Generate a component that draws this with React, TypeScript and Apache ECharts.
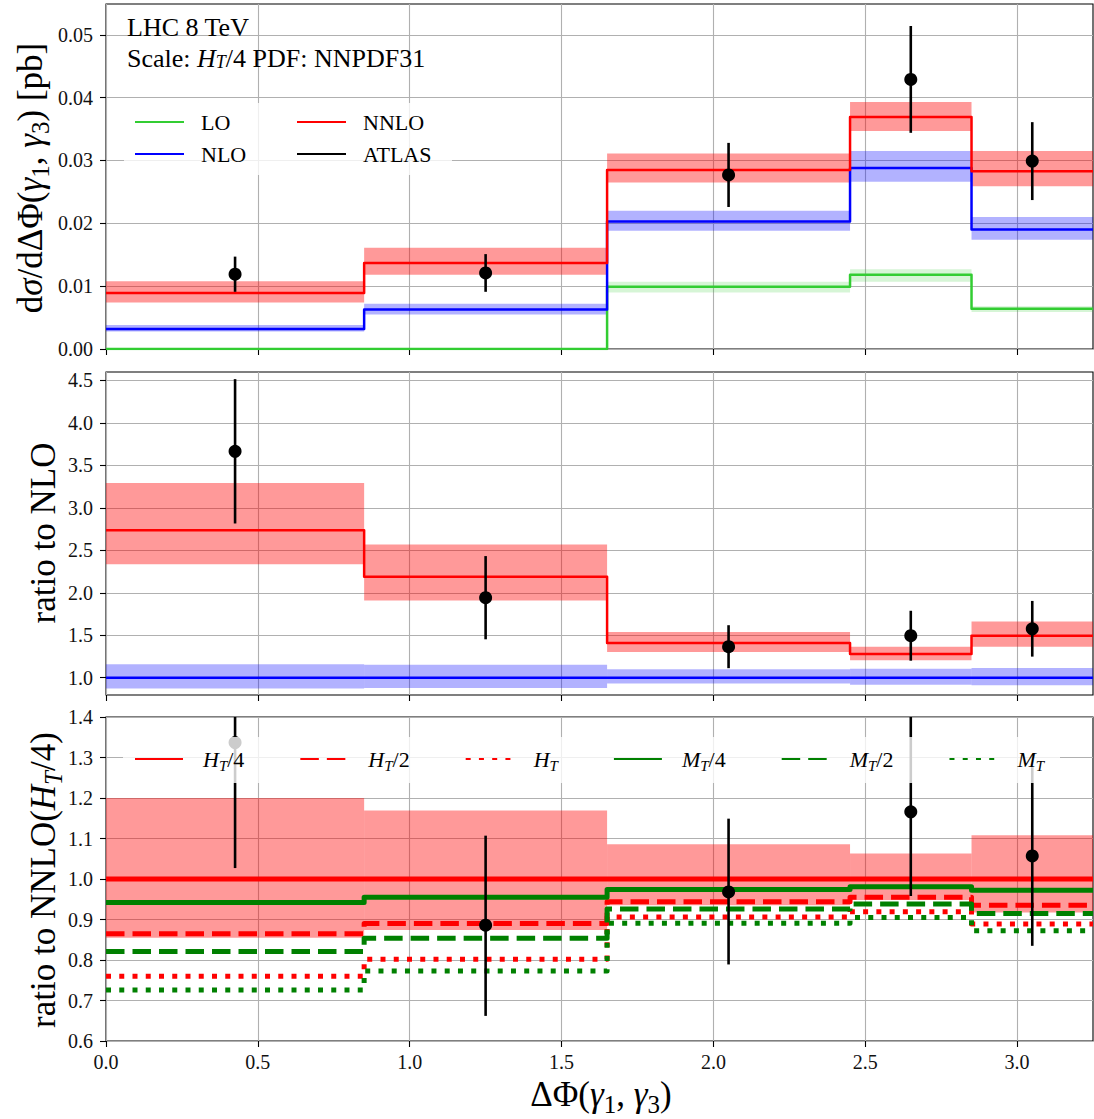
import React, { useEffect, useRef } from "react";
import * as echarts from "echarts";

const FONT = "'Liberation Serif', 'DejaVu Serif', serif";

// Binning in ΔΦ(γ1, γ3)
const binEdges = [0, 0.85, 1.65, 2.45, 2.85, 3.25];
const binCentres = [0.425, 1.25, 2.05, 2.65, 3.05];
const xTicks = [0, 0.5, 1.0, 1.5, 2.0, 2.5, 3.0];

// Top panel: differential cross section [pb]
const xsTicks = [0, 0.01, 0.02, 0.03, 0.04, 0.05];
const loXs = [0, 0, 0.0099, 0.0118, 0.0064];
const loXsLow = [0, 0, 0.009, 0.0107, 0.0059];
const loXsHigh = [0, 0, 0.0107, 0.0127, 0.0068];
const nloXs = [0.0032, 0.0063, 0.0203, 0.0288, 0.019];
const nloXsLow = [0.0028, 0.0055, 0.0188, 0.0266, 0.0174];
const nloXsHigh = [0.0038, 0.0072, 0.022, 0.0315, 0.021];
const nnloXs = [0.0089, 0.0137, 0.0285, 0.0369, 0.0283];
const nnloXsLow = [0.0074, 0.0118, 0.0265, 0.0347, 0.0259];
const nnloXsHigh = [0.0108, 0.0161, 0.0311, 0.0393, 0.0315];
const atlasXs = [0.0119, 0.0121, 0.0277, 0.0429, 0.0299];
const atlasXsErr = [0.0028, 0.003, 0.0051, 0.0085, 0.0062];

// Middle panel: ratio to NLO
const nloRatioTicks = [1.0, 1.5, 2.0, 2.5, 3.0, 3.5, 4.0, 4.5];
const nloOverNlo = [1, 1, 1, 1, 1];
const nloOverNloLow = [0.874, 0.878, 0.93, 0.918, 0.91];
const nloOverNloHigh = [1.157, 1.153, 1.098, 1.106, 1.114];
const nnloOverNlo = [2.736, 2.19, 1.408, 1.278, 1.494];
const nnloOverNloLow = [2.335, 1.91, 1.302, 1.204, 1.364];
const nnloOverNloHigh = [3.293, 2.567, 1.537, 1.364, 1.663];
const atlasOverNlo = [3.666, 1.942, 1.365, 1.494, 1.576];
const atlasOverNloErr = [0.85, 0.49, 0.253, 0.294, 0.328];

// Bottom panel: scale choices relative to NNLO(H_T/4)
const scaleRatioTicks = [0.6, 0.7, 0.8, 0.9, 1.0, 1.1, 1.2, 1.3, 1.4];
const scaleBandLow = [0.855, 0.874, 0.935, 0.948, 0.917];
const scaleBandHigh = [1.2, 1.169, 1.086, 1.063, 1.108];
const ratioHT4 = [1, 1, 1, 1, 1];
const ratioHT2 = [0.865, 0.89, 0.944, 0.955, 0.935];
const ratioHT = [0.76, 0.802, 0.906, 0.919, 0.889];
const ratioMT4 = [0.942, 0.955, 0.974, 0.981, 0.972];
const ratioMT2 = [0.821, 0.854, 0.926, 0.938, 0.915];
const ratioMT = [0.726, 0.773, 0.891, 0.905, 0.872];
const atlasOverHT4 = [1.337, 0.886, 0.968, 1.166, 1.057];
const atlasOverHT4ErrDown = [0.31, 0.224, 0.179, 0.208, 0.222];
const atlasOverHT4ErrUp = [0.31, 0.221, 0.181, 0.25, 0.219];

const scaleNames = ["HT/4", "HT/2", "HT", "MT/4", "MT/2", "MT"];
const scaleLabels: Record<string, string> = {
  "HT/4": "{p| }{i|H}{si|T}{r|/4}",
  "HT/2": "{p| }{i|H}{si|T}{r|/2}",
  HT: "{p| }{i|H}{si|T}",
  "MT/4": "{p| }{i|M}{si|T}{r|/4}",
  "MT/2": "{p| }{i|M}{si|T}{r|/2}",
  MT: "{p| }{i|M}{si|T}",
};

const RED = "#ff0000";
const BLUE = "#0000ff";
const LIME = "#32cd32";
const GREEN = "#008000";
const DASH = [18.5, 8];
const DOT = [5, 8.25];

const stepPoints = (v: number[]) =>
  binEdges.map((x, i) => [x, v[Math.min(i, v.length - 1)]]);
const bandRows = (lo: number[], hi: number[]) =>
  lo.map((l, i) => [binEdges[i], binEdges[i + 1], l, hi[i]]).filter((r) => r[3] > r[2]);
const errRows = (c: number[], dn: number[], up: number[]) =>
  c.map((y, i) => [binCentres[i], y, y - dn[i], y + up[i]]);

function bandSeries(panel: number, lo: number[], hi: number[], fill: string) {
  return {
    type: "custom",
    xAxisIndex: panel,
    yAxisIndex: panel,
    z: 1,
    clip: true,
    silent: true,
    data: bandRows(lo, hi),
    encode: { x: [0, 1], y: [2, 3] },
    renderItem: (_p: any, api: any) => {
      const a = api.coord([api.value(0), api.value(3)]);
      const b = api.coord([api.value(1), api.value(2)]);
      return {
        type: "rect",
        shape: { x: a[0], y: a[1], width: b[0] - a[0], height: b[1] - a[1] },
        style: { fill },
      };
    },
  };
}

function stepSeries(
  panel: number,
  name: string | undefined,
  values: number[],
  color: string,
  width: number,
  dash: any = "solid"
) {
  return {
    type: "line",
    name,
    xAxisIndex: panel,
    yAxisIndex: panel,
    data: stepPoints(values),
    step: "end",
    symbol: "none",
    z: 2,
    silent: true,
    clip: true,
    lineStyle: { color, width, type: dash, cap: "butt", join: "round" },
    itemStyle: { color },
  };
}

function errorSeries(panel: number, rows: number[][], width: number, radius: number) {
  return {
    type: "custom",
    xAxisIndex: panel,
    yAxisIndex: panel,
    z: 3,
    clip: true,
    silent: true,
    data: rows,
    encode: { x: 0, y: [1, 2, 3] },
    renderItem: (_p: any, api: any) => {
      const c = api.coord([api.value(0), api.value(1)]);
      const lo = api.coord([api.value(0), api.value(2)]);
      const hi = api.coord([api.value(0), api.value(3)]);
      return {
        type: "group",
        children: [
          {
            type: "line",
            shape: { x1: c[0], y1: hi[1], x2: c[0], y2: lo[1] },
            style: { stroke: "#000", lineWidth: width },
          },
          { type: "circle", shape: { cx: c[0], cy: c[1], r: radius }, style: { fill: "#000" } },
        ],
      };
    },
  };
}

const tickText = { fontFamily: FONT, fontSize: 20, color: "#111" };
const gridLine = { show: true, lineStyle: { color: "#b0b0b0", width: 1.1 } };
const tickLine = { color: "#000", width: 1.1 };

function xAxis(i: number, labels: boolean) {
  return {
    type: "value",
    gridIndex: i,
    min: 0,
    max: 3.25,
    interval: 0.5,
    axisLine: { show: false, onZero: false },
    axisTick: { show: true, inside: false, length: 6, customValues: xTicks, lineStyle: tickLine },
    axisLabel: {
      show: labels,
      customValues: xTicks,
      margin: 11,
      formatter: (v: number) => v.toFixed(1),
      ...tickText,
    },
    splitLine: gridLine,
  };
}

function yAxis(i: number, min: number, max: number, ticks: number[], digits: number, extra: any = {}) {
  return {
    type: "value",
    gridIndex: i,
    min,
    max,
    ...extra,
    axisLine: { show: false, onZero: false },
    axisTick: { show: true, inside: false, length: 6, customValues: ticks, lineStyle: tickLine },
    axisLabel: {
      customValues: ticks,
      margin: 13,
      formatter: (v: number) => v.toFixed(digits),
      ...tickText,
    },
    splitLine: gridLine,
  };
}

const legendRich = {
  p: { width: 12, lineHeight: 14, fontSize: 22, fontFamily: FONT },
  r: { fontFamily: FONT, fontSize: 22, lineHeight: 14, color: "#000" },
};

const scaleRich = {
  p: { width: 15, lineHeight: 28, fontSize: 22, fontFamily: FONT },
  r: { fontFamily: FONT, fontSize: 22, lineHeight: 28, color: "#000" },
  i: { fontFamily: FONT, fontSize: 22, fontStyle: "italic", lineHeight: 28, color: "#000" },
  si: {
    fontFamily: FONT,
    fontSize: 15,
    fontStyle: "italic",
    lineHeight: 15,
    verticalAlign: "bottom",
    color: "#000",
  },
};

function textRich(fs: number, lh = Math.round(fs * 1.3)) {
  const sub = Math.round(fs * 0.7);
  return {
    r: { fontFamily: FONT, fontSize: fs, lineHeight: lh, fill: "#000" },
    m: { fontFamily: FONT, fontSize: fs, fontStyle: "italic", lineHeight: lh, fill: "#000" },
    s: { fontFamily: FONT, fontSize: sub, lineHeight: sub, verticalAlign: "bottom", fill: "#000" },
    si: { fontFamily: FONT, fontSize: sub, fontStyle: "italic", lineHeight: sub, verticalAlign: "bottom", fill: "#000" },
  };
}

function buildOption() {
  const gridBox = { show: true, borderColor: "#000", borderWidth: 1.1, backgroundColor: "transparent" };
  const legendBase = {
    selectedMode: false,
    padding: 0,
    z: 60,
    itemWidth: 49,
    itemHeight: 14,
    itemStyle: { opacity: 0 },
  };

  return {
    animation: false,
    backgroundColor: "#fff",
    grid: [
      { left: 106, top: 4, width: 987, height: 345, ...gridBox },
      { left: 106, top: 372, width: 987, height: 323, ...gridBox },
      { left: 106, top: 717, width: 987, height: 324, ...gridBox },
    ],
    xAxis: [xAxis(0, false), xAxis(1, false), xAxis(2, true)],
    yAxis: [
      yAxis(0, 0, 0.0549, xsTicks, 2, { interval: 0.01 }),
      yAxis(1, 0.796, 4.6, nloRatioTicks, 1, { splitNumber: 8 }),
      yAxis(2, 0.6, 1.4, scaleRatioTicks, 1, { interval: 0.1 }),
    ],
    legend: [
      {
        ...legendBase,
        data: ["LO", "NLO"],
        orient: "vertical",
        left: 134,
        top: 111,
        itemGap: 10,
        formatter: (n: string) => `{p| }{r|${n}}`,
        textStyle: { rich: legendRich },
      },
      {
        ...legendBase,
        data: ["NNLO", "ATLAS"],
        orient: "vertical",
        left: 296,
        top: 111,
        itemGap: 10,
        formatter: (n: string) => `{p| }{r|${n}}`,
        textStyle: { rich: legendRich },
      },
      {
        ...legendBase,
        data: scaleNames,
        orient: "horizontal",
        left: 134,
        top: 748,
        itemWidth: 48,
        itemGap: 55,
        formatter: (n: string) => scaleLabels[n],
        textStyle: { rich: scaleRich },
      },
    ],
    series: [
      // cross sections
      bandSeries(0, loXsLow, loXsHigh, "rgba(50,205,50,0.2)"),
      bandSeries(0, nloXsLow, nloXsHigh, "rgba(0,0,255,0.3)"),
      bandSeries(0, nnloXsLow, nnloXsHigh, "rgba(255,0,0,0.4)"),
      stepSeries(0, "LO", loXs, LIME, 2.5),
      stepSeries(0, "NLO", nloXs, BLUE, 2.5),
      stepSeries(0, "NNLO", nnloXs, RED, 2.5),
      {
        type: "line",
        name: "ATLAS",
        xAxisIndex: 0,
        yAxisIndex: 0,
        data: [],
        symbol: "none",
        lineStyle: { color: "#000", width: 2.5 },
        itemStyle: { color: "#000" },
      },
      errorSeries(0, errRows(atlasXs, atlasXsErr, atlasXsErr), 2.6, 6.5),

      // ratio to NLO
      bandSeries(1, nnloOverNloLow, nnloOverNloHigh, "rgba(255,0,0,0.4)"),
      bandSeries(1, nloOverNloLow, nloOverNloHigh, "rgba(0,0,255,0.3)"),
      stepSeries(1, undefined, nnloOverNlo, RED, 2.5),
      stepSeries(1, undefined, nloOverNlo, BLUE, 2.5),
      errorSeries(1, errRows(atlasOverNlo, atlasOverNloErr, atlasOverNloErr), 2.6, 6.5),

      // scale choices
      bandSeries(2, scaleBandLow, scaleBandHigh, "rgba(255,0,0,0.4)"),
      stepSeries(2, "HT/4", ratioHT4, RED, 5),
      stepSeries(2, "HT/2", ratioHT2, RED, 5, DASH),
      stepSeries(2, "HT", ratioHT, RED, 5, DOT),
      stepSeries(2, "MT/4", ratioMT4, GREEN, 5),
      stepSeries(2, "MT/2", ratioMT2, GREEN, 5, DASH),
      stepSeries(2, "MT", ratioMT, GREEN, 5, DOT),
      errorSeries(2, errRows(atlasOverHT4, atlasOverHT4ErrDown, atlasOverHT4ErrUp), 2.6, 6.5),
    ],
    graphic: {
      elements: [
        // translucent legend frames
        {
          type: "rect",
          z: 50,
          silent: true,
          shape: { x: 124, y: 103, width: 328, height: 72 },
          style: { fill: "rgba(255,255,255,0.8)" },
        },
        {
          type: "rect",
          z: 50,
          silent: true,
          shape: { x: 123, y: 737, width: 937, height: 46 },
          style: { fill: "rgba(255,255,255,0.8)" },
        },
        // run information
        {
          type: "text",
          x: 127,
          y: 27,
          z: 55,
          style: {
            text: "LHC 8 TeV",
            fontFamily: FONT,
            fontSize: 26,
            fill: "#000",
            align: "left",
            verticalAlign: "middle",
          },
        },
        {
          type: "text",
          x: 127,
          y: 58,
          z: 55,
          style: {
            text: "{r|Scale: }{m|H}{si|T}{r|/4 PDF: NNPDF31}",
            rich: textRich(26, 26),
            align: "left",
            verticalAlign: "middle",
          },
        },
        // axis titles
        {
          type: "text",
          x: 30,
          y: 178,
          rotation: Math.PI / 2,
          style: {
            text: "{r|d}{m|σ}{r|/dΔΦ(}{m|γ}{s|1}{r|, }{m|γ}{s|3}{r|) [pb]}",
            rich: textRich(35),
            align: "center",
            verticalAlign: "middle",
          },
        },
        {
          type: "text",
          x: 43,
          y: 533,
          rotation: Math.PI / 2,
          style: {
            text: "{r|ratio to NLO}",
            rich: textRich(35),
            align: "center",
            verticalAlign: "middle",
          },
        },
        {
          type: "text",
          x: 43,
          y: 880,
          rotation: Math.PI / 2,
          style: {
            text: "{r|ratio to NNLO(}{m|H}{si|T}{r|/4)}",
            rich: textRich(35),
            align: "center",
            verticalAlign: "middle",
          },
        },
        {
          type: "text",
          x: 601,
          y: 1094,
          style: {
            text: "{r|ΔΦ(}{m|γ}{s|1}{r|, }{m|γ}{s|3}{r|)}",
            rich: textRich(35),
            align: "center",
            verticalAlign: "middle",
          },
        },
      ],
    },
  };
}

export default function App() {
  const ref = useRef<HTMLDivElement>(null);
  useEffect(() => {
    if (!ref.current) return;
    const chart = echarts.init(ref.current, undefined, { renderer: "svg" });
    chart.setOption(buildOption() as any);
    return () => chart.dispose();
  }, []);
  return (
    <div
      ref={ref}
      style={{ position: "absolute", left: 0, top: 0, width: 1094, height: 1119, background: "#fff" }}
    />
  );
}
